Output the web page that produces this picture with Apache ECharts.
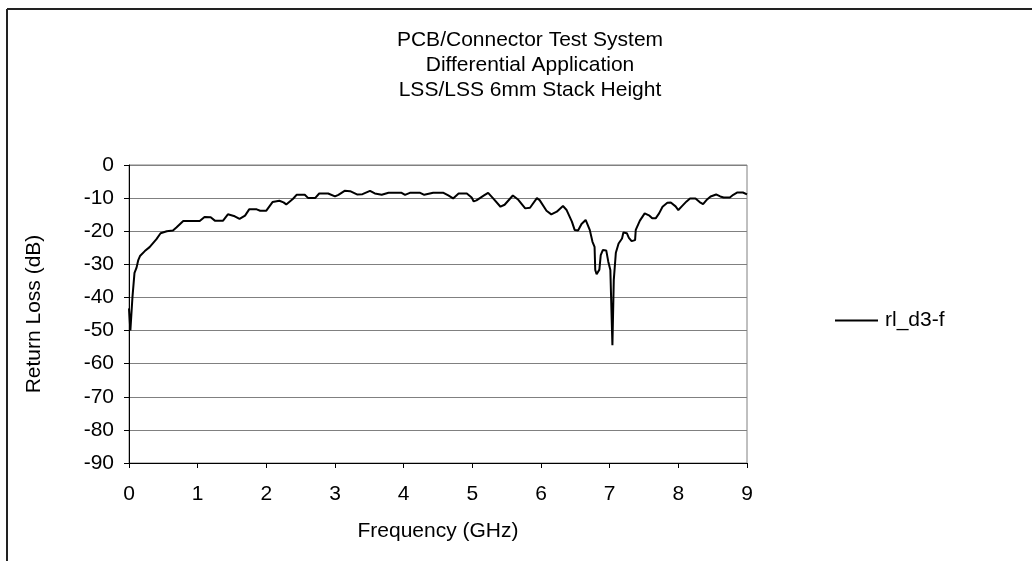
<!DOCTYPE html>
<html>
<head>
<meta charset="utf-8">
<script src="https://cdn.jsdelivr.net/npm/echarts@6/dist/echarts.min.js"></script>
<style>
html,body{margin:0;padding:0;background:#fff;}
#chart{width:1032px;height:561px;}
</style>
</head>
<body>
<div id="chart"></div>
<script>
const titleLines = ['PCB/Connector Test System', 'Differential Application', 'LSS/LSS 6mm Stack Height'];
const seriesName = 'rl_d3-f';
const xTitle = 'Frequency (GHz)';
const yTitle = 'Return Loss (dB)';
const freqGHz = [0.00,0.02,0.05,0.08,0.11,0.135,0.16,0.23,0.30,0.40,0.46,0.55,0.64,0.69,0.79,1.03,1.10,1.19,1.25,1.37,1.44,1.54,1.61,1.69,1.75,1.86,1.91,2.00,2.09,2.19,2.25,2.29,2.39,2.44,2.56,2.61,2.71,2.77,2.90,3.00,3.05,3.14,3.22,3.32,3.40,3.51,3.58,3.68,3.78,3.97,4.02,4.09,4.24,4.30,4.43,4.58,4.65,4.72,4.80,4.92,4.99,5.02,5.06,5.11,5.17,5.23,5.30,5.41,5.47,5.59,5.67,5.77,5.84,5.94,5.98,6.08,6.15,6.23,6.32,6.37,6.45,6.49,6.54,6.59,6.65,6.71,6.75,6.78,6.79,6.81,6.85,6.87,6.90,6.95,6.98,7.01,7.04,7.06,7.09,7.13,7.18,7.20,7.25,7.28,7.32,7.37,7.38,7.44,7.51,7.58,7.62,7.67,7.72,7.77,7.84,7.89,7.96,8.00,8.05,8.12,8.17,8.25,8.31,8.36,8.41,8.47,8.55,8.61,8.66,8.75,8.80,8.86,8.94,9.00];
const returnLossDb = [-43.3,-50,-40,-32.6,-31,-28.7,-27.5,-26,-24.8,-22.4,-20.6,-20,-19.8,-18.9,-16.9,-16.9,-15.7,-15.8,-16.8,-16.8,-14.9,-15.5,-16.3,-15.3,-13.4,-13.4,-13.8,-13.8,-11.2,-10.8,-11.3,-11.9,-10.2,-9.0,-9.0,-10.0,-10.0,-8.6,-8.6,-9.5,-9.0,-7.8,-7.9,-8.9,-8.8,-7.8,-8.6,-9.0,-8.4,-8.4,-9.0,-8.4,-8.4,-9.0,-8.4,-8.4,-9.2,-10.1,-8.6,-8.6,-9.8,-11.0,-10.7,-10.0,-9.2,-8.4,-10.0,-12.6,-12.0,-9.2,-10.5,-13.1,-12.9,-10.0,-10.6,-13.8,-14.9,-14.1,-12.4,-13.5,-17.1,-19.6,-19.8,-17.8,-16.6,-19.6,-23.2,-24.7,-31.7,-33.0,-31.6,-27.2,-25.7,-25.8,-29.2,-31.7,-54.4,-34.7,-26.5,-23.7,-22.2,-20.4,-20.6,-22.0,-23.0,-22.7,-19.6,-16.8,-14.6,-15.3,-16.1,-16.1,-14.6,-12.6,-11.4,-11.3,-12.5,-13.6,-12.5,-11.0,-10.1,-10.1,-11.2,-11.8,-10.6,-9.5,-8.9,-9.5,-9.8,-9.8,-9.0,-8.3,-8.3,-8.9];

const FONT = 'Liberation Sans';
const FS = 21;
const chart = echarts.init(document.getElementById('chart'), null, {renderer: 'canvas'});
const data = freqGHz.map((f, i) => [f, returnLossDb[i]]);

chart.setOption({
  backgroundColor: '#fff',
  animation: false,
  textStyle: {fontFamily: FONT, color: '#000'},
  title: {
    text: titleLines.join('\n'),
    left: 525,
    top: 23,
    textAlign: 'center',
    textStyle: {fontFamily: FONT, fontSize: FS, fontWeight: 'normal', color: '#000', lineHeight: 25}
  },
  legend: {
    left: 830,
    top: 305,
    orient: 'vertical',
    icon: 'rect',
    itemWidth: 43,
    itemHeight: 2,
    itemGap: 8,
    textStyle: {fontFamily: FONT, fontSize: FS, color: '#000', padding: [0, 0, 0, 2]},
    data: [seriesName]
  },
  grid: {
    left: 129, right: 285, top: 165, bottom: 98,
    show: true, borderColor: '#808080', borderWidth: 1, backgroundColor: 'transparent'
  },
  xAxis: {
    type: 'value', min: 0, max: 9, interval: 1,
    name: xTitle, nameLocation: 'middle', nameGap: 58,
    nameTextStyle: {fontFamily: FONT, fontSize: FS, color: '#000'},
    axisLine: {show: true, onZero: false, lineStyle: {color: '#000', width: 1}},
    axisTick: {show: true, inside: false, length: 5, lineStyle: {color: '#000'}},
    axisLabel: {fontFamily: FONT, fontSize: FS, color: '#000', margin: 21},
    splitLine: {show: false}
  },
  yAxis: {
    type: 'value', min: -90, max: 0, interval: 10,
    name: yTitle, nameLocation: 'middle', nameGap: 84, nameRotate: 90,
    nameTextStyle: {fontFamily: FONT, fontSize: FS, color: '#000'},
    axisLine: {show: true, onZero: false, lineStyle: {color: '#000', width: 1}},
    axisTick: {show: true, inside: false, length: 5, lineStyle: {color: '#000'}},
    axisLabel: {fontFamily: FONT, fontSize: FS, color: '#000', margin: 15},
    splitLine: {show: true, lineStyle: {color: '#808080', width: 1}}
  },
  series: [{
    name: seriesName,
    type: 'line',
    data: data,
    showSymbol: false,
    symbol: 'none',
    lineStyle: {color: '#000', width: 2},
    itemStyle: {color: '#000'}
  }],
  graphic: [
    {type: 'line', shape: {x1: 7, y1: 9, x2: 1032, y2: 9}, style: {stroke: '#222', lineWidth: 2}},
    {type: 'line', shape: {x1: 7, y1: 9, x2: 7, y2: 561}, style: {stroke: '#222', lineWidth: 2}}
  ]
});
</script>
</body>
</html>
